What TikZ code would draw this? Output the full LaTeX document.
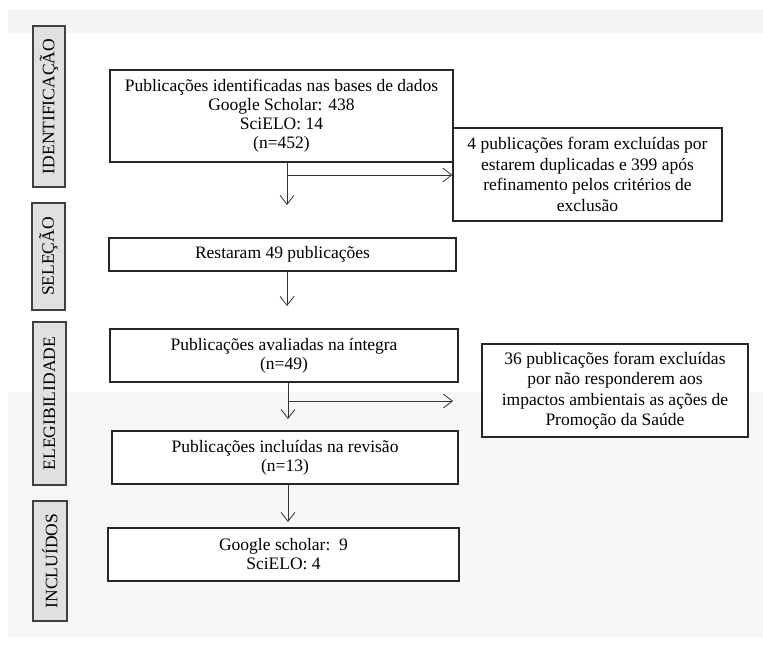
\documentclass[tikz,border=0pt]{standalone}
\usepackage{fontspec}
\setmainfont{Liberation Serif}
\usetikzlibrary{arrows.meta}
\begin{document}
\begin{tikzpicture}[x=1pt,y=-1pt,
  box/.style={draw=black!85, line width=1.4pt, fill=white, align=center, inner sep=0pt,
    font=\fontsize{17.5}{19}\selectfont},
  sidebox/.style={draw=black!85, line width=1.4pt, fill=white, align=center, inner sep=0pt,
    font=\fontsize{17.5}{20.5}\selectfont},
  phase/.style={draw=black!75, line width=1.5pt, fill=black!12, rotate=90, inner sep=0pt,
    font=\fontsize{17.5}{17.5}\selectfont},
  arr/.style={line width=0.8pt, draw=black!80, -{Straight Barb[length=9pt,width=14pt]}}]
\useasboundingbox (0,0) rectangle (763,653);
% background bands
\fill[black!4] (8,10) rectangle (763,33);
\fill[black!3] (8,392) rectangle (763,637);

% phase labels
\node[phase, minimum width=161pt, minimum height=32pt] (pid) at (49,106.5) {IDENTIFICAÇÃO};
\node[phase, minimum width=107pt, minimum height=33pt] (psel) at (48.5,256.5) {SELEÇÃO};
\node[phase, minimum width=163pt, minimum height=33pt] (pele) at (49.5,403.5) {ELEGIBILIDADE};
\node[phase, minimum width=120pt, minimum height=34pt] (pinc) at (50,561) {INCLUÍDOS};

% main boxes
\node[box, minimum width=343pt, minimum height=92pt] (b1) at (281.5,116)
  {Publicações identificadas nas bases de dados\\Google Scholar: 438\\SciELO: 14\\(n=452)};
\node[sidebox, minimum width=269pt, minimum height=93pt] (r1) at (587.5,174.5)
  {4 publicações foram excluídas por\\estarem duplicadas e 399 após\\refinamento pelos critérios de\\exclusão};
\node[box, minimum width=347pt, minimum height=33pt] (b2) at (282.5,254.5)
  {Restaram 49 publicações};
\node[box, minimum width=348pt, minimum height=53pt] (b3) at (284,355.5)
  {Publicações avaliadas na íntegra\\(n=49)};
\node[sidebox, minimum width=266pt, minimum height=93pt] (r2) at (615,390.5)
  {36 publicações foram excluídas\\por não responderem aos\\impactos ambientais as ações de\\Promoção da Saúde};
\node[box, minimum width=346pt, minimum height=53pt] (b4) at (285,457.5)
  {Publicações incluídas na revisão\\(n=13)};
\node[box, minimum width=351pt, minimum height=53pt] (b5) at (283.5,554.5)
  {Google scholar:~~9\\SciELO: 4};

% connectors
\coordinate (s1) at (287,162);
\coordinate (e1) at (287,205);
\coordinate (k1) at (287,175);
\draw[arr] (s1) -- (e1);
\draw[arr] (k1) -- (k1 -| r1.west);

\coordinate (s2) at (287,271);
\coordinate (e2) at (287,306);
\draw[arr] (s2) -- (e2);

\coordinate (s3) at (288,382);
\coordinate (e3) at (288,419);
\coordinate (k3) at (288,401);
\coordinate (f3) at (453,401);
\draw[arr] (s3) -- (e3);
\draw[arr] (k3) -- (f3);

\coordinate (s4) at (288,484);
\coordinate (e4) at (288,522);
\draw[arr] (s4) -- (e4);
\end{tikzpicture}
\end{document}
